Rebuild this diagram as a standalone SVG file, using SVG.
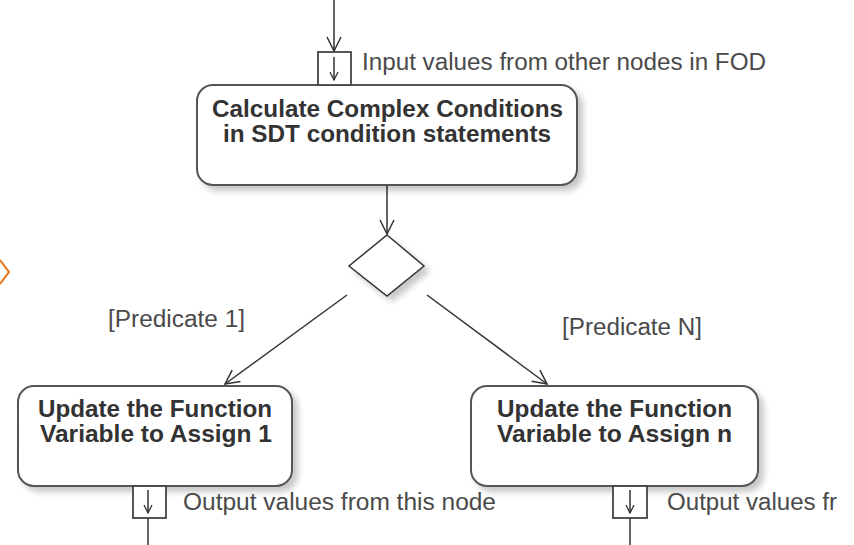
<svg xmlns="http://www.w3.org/2000/svg" width="854" height="545" viewBox="0 0 854 545">
  <defs>
    <filter id="shadow" x="-10%" y="-10%" width="130%" height="140%">
      <feGaussianBlur in="SourceAlpha" stdDeviation="3"/>
      <feOffset dx="5" dy="5" result="b"/>
      <feComponentTransfer><feFuncA type="linear" slope="0.22"/></feComponentTransfer>
      <feMerge><feMergeNode/><feMergeNode in="SourceGraphic"/></feMerge>
    </filter>
    <marker id="open" viewBox="0 0 16 16" refX="15" refY="8" markerWidth="16" markerHeight="16" markerUnits="userSpaceOnUse" orient="auto">
      <path d="M1,1 L15,8 L1,15" fill="none" stroke="#333" stroke-width="1.5"/>
    </marker>
    <marker id="pinhead" viewBox="0 0 10 10" refX="9" refY="5" markerWidth="10" markerHeight="10" markerUnits="userSpaceOnUse" orient="auto">
      <path d="M1,1 L9,5 L1,9" fill="none" stroke="#333" stroke-width="1.3"/>
    </marker>
  </defs>
  <style>
    .act { fill: #fff; stroke: #555; stroke-width: 2; }
    .pin { fill: #fff; stroke: #444; stroke-width: 1.8; }
    .edge { fill: none; stroke: #333; stroke-width: 1.5; }
    .title { font-family: "Liberation Sans", Arial, sans-serif; font-weight: bold; font-size: 23px; fill: #333; }
    .label { font-family: "Liberation Sans", Arial, sans-serif; font-size: 23px; fill: #4a4a4a; }
  </style>

  <rect width="854" height="545" fill="#fff"/>

  <!-- partial decision shape at the left margin -->
  <polyline points="0,260 9,272 0,284" fill="none" stroke="#e8761a" stroke-width="2"/>

  <g id="connectors">
    <line class="edge" x1="334" y1="0" x2="334" y2="51" marker-end="url(#open)"/>
    <line class="edge" x1="387" y1="186" x2="387" y2="234" marker-end="url(#open)"/>
    <line class="edge" x1="347" y1="295" x2="225" y2="384" marker-end="url(#open)"/>
    <line class="edge" x1="427" y1="295" x2="547" y2="384" marker-end="url(#open)"/>
    <line class="edge" x1="148" y1="518" x2="148" y2="545"/>
    <line class="edge" x1="630" y1="518" x2="630" y2="545"/>
  </g>

  <g id="calc-node">
    <rect class="act" x="197" y="85" width="380" height="100" rx="16" filter="url(#shadow)"/>
    <text class="title" x="212" y="117" textLength="351" lengthAdjust="spacingAndGlyphs">Calculate Complex Conditions</text>
    <text class="title" x="223" y="142" textLength="328" lengthAdjust="spacingAndGlyphs">in SDT condition statements</text>
  </g>

  <g id="input-pin">
    <rect class="pin" x="318" y="52" width="33" height="33"/>
    <line class="edge" x1="334" y1="57" x2="334" y2="80" marker-end="url(#pinhead)"/>
    <text class="label" x="362" y="70" textLength="404" lengthAdjust="spacingAndGlyphs">Input values from other nodes in FOD</text>
  </g>

  <g id="decision">
    <polygon points="387,235 424,266 387,296 349,266" fill="#fff" stroke="#333" stroke-width="1.5" filter="url(#shadow)"/>
  </g>

  <g id="guard-1">
    <text class="label" x="108" y="327" textLength="137" lengthAdjust="spacingAndGlyphs">[Predicate 1]</text>
  </g>
  <g id="guard-n">
    <text class="label" x="562" y="335" textLength="140" lengthAdjust="spacingAndGlyphs">[Predicate N]</text>
  </g>

  <g id="assign-1">
    <rect class="act" x="18" y="386" width="274" height="100" rx="16" filter="url(#shadow)"/>
    <text class="title" x="38" y="417" textLength="234" lengthAdjust="spacingAndGlyphs">Update the Function</text>
    <text class="title" x="40" y="442" textLength="232" lengthAdjust="spacingAndGlyphs">Variable to Assign 1</text>
  </g>

  <g id="output-pin-1">
    <rect class="pin" x="133" y="486" width="33" height="32"/>
    <line class="edge" x1="148" y1="490" x2="148" y2="513" marker-end="url(#pinhead)"/>
    <text class="label" x="183" y="510" textLength="313" lengthAdjust="spacingAndGlyphs">Output values from this node</text>
  </g>

  <g id="assign-n">
    <rect class="act" x="471" y="386" width="287" height="100" rx="16" filter="url(#shadow)"/>
    <text class="title" x="497" y="417" textLength="235" lengthAdjust="spacingAndGlyphs">Update the Function</text>
    <text class="title" x="497" y="442" textLength="235" lengthAdjust="spacingAndGlyphs">Variable to Assign n</text>
  </g>

  <g id="output-pin-n">
    <rect class="pin" x="613" y="486" width="34" height="32"/>
    <line class="edge" x1="630" y1="490" x2="630" y2="513" marker-end="url(#pinhead)"/>
    <text class="label" x="667" y="510" textLength="170" lengthAdjust="spacingAndGlyphs">Output values fr</text>
  </g>
</svg>
